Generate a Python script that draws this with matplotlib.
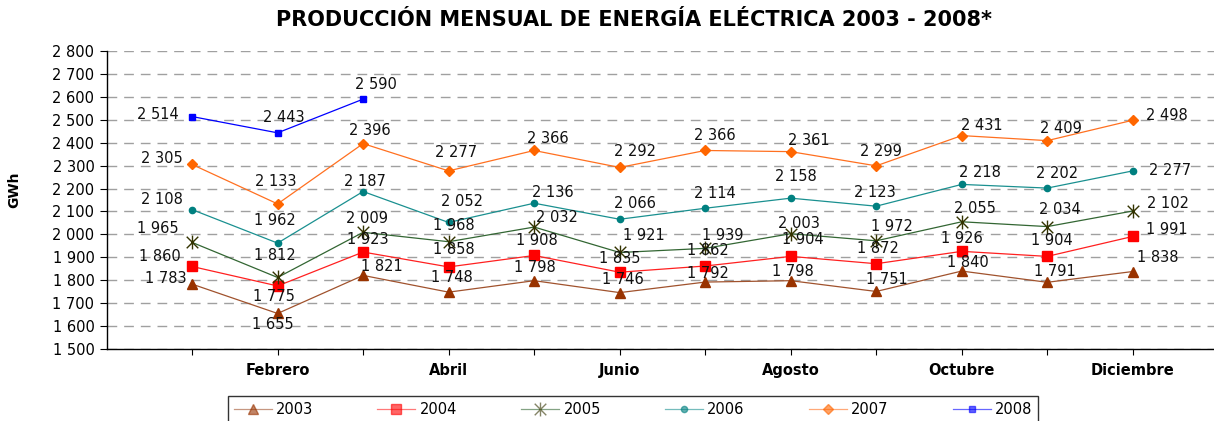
import numpy as np
import matplotlib
matplotlib.use("Agg")
import matplotlib.pyplot as plt
from matplotlib.path import Path

plt.rcParams["font.family"] = ["DejaVu Sans"]

# monthly electricity production, GWh
months = ["Enero", "Febrero", "Marzo", "Abril", "Mayo", "Junio", "Julio",
          "Agosto", "Septiembre", "Octubre", "Noviembre", "Diciembre"]
y2003 = [1783, 1655, 1821, 1748, 1798, 1746, 1792, 1798, 1751, 1840, 1791, 1838]
y2004 = [1860, 1775, 1923, 1858, 1908, 1835, 1862, 1904, 1872, 1926, 1904, 1991]
y2005 = [1965, 1812, 2009, 1968, 2032, 1921, 1939, 2003, 1972, 2055, 2034, 2102]
y2006 = [2108, 1962, 2187, 2052, 2136, 2066, 2114, 2158, 2123, 2218, 2202, 2277]
y2007 = [2305, 2133, 2396, 2277, 2366, 2292, 2366, 2361, 2299, 2431, 2409, 2498]
y2008 = [2514, 2443, 2590]
years = ["2003", "2004", "2005", "2006", "2007", "2008"]

# label offsets in pixels (dx, dy) - hand placed like the original
off2003 = [(-26, 6), (-5, -11), (19, 9), (3, 15), (1, 13), (3, 13), (3, 9),
           (2, 9), (11, 12), (6, 9), (8, 11), (25, 14)]
off2004 = [(-32, 10), (-4, -11), (5, 13), (5, 17), (3, 15), (0, 14), (3, 16),
           (12, 17), (2, 15), (0, 13), (5, 16), (34, 7)]
off2005 = [(-34, 14), (-3, 22), (4, 14), (5, 16), (23, 10), (24, 17), (18, 13),
           (8, 10), (16, 14), (13, 13), (13, 17), (35, 8)]
off2006 = [(-30, 10), (-3, 23), (2, 10), (13, 21), (19, 11), (15, 16), (10, 15),
           (5, 22), (-1, 14), (18, 12), (10, 15), (37, 0)]
off2007 = [(-30, 6), (-2, 22), (7, 13), (7, 18), (14, 12), (15, 16), (10, 15),
           (18, 11), (5, 14), (20, 10), (14, 12), (34, 5)]
off2008 = [(-34, 2), (6, 15), (13, 15)]

# asterisk marker (x plus vertical bar) like the excel one
star = Path([(-1, -1), (1, 1), (-1, 1), (1, -1), (0, -1.2), (0, 1.2)],
            [Path.MOVETO, Path.LINETO, Path.MOVETO, Path.LINETO, Path.MOVETO, Path.LINETO])

series = [
    (y2003, off2003, dict(color="#A0522D", marker="^", ms=7, mfc="#993300", mec="#993300")),
    (y2004, off2004, dict(color="#FF2020", marker="s", ms=7, mfc="#FF0000", mec="#FF0000")),
    (y2005, off2005, dict(color="#336633", marker=star, ms=10, mfc="none", mec="#333300", mew=1)),
    (y2006, off2006, dict(color="#1A9090", marker="o", ms=4.5, mfc="#008080", mec="#008080")),
    (y2007, off2007, dict(color="#FF7020", marker="D", ms=5.5, mfc="#FF6600", mec="#FF6600")),
    (y2008, off2008, dict(color="#0000FF", marker="s", ms=5, mfc="#0000FF", mec="#0000FF")),
]

def fmt(v):
    return f"{v:,}".replace(",", " ")

fig = plt.figure(figsize=(12.14, 4.21), dpi=100)
ax = fig.add_axes([107 / 1214, 72 / 421, 1 - 107 / 1214, 298 / 421])

x = np.arange(len(months))
for (vals, offs, st), name in zip(series, years):
    xs = x[:len(vals)]
    ax.plot(xs, vals, lw=0.9, label=name, **st)
    for xi, v, (dx, dy) in zip(xs, vals, offs):
        ax.annotate(fmt(v), (xi, v), xytext=(dx, dy), textcoords="offset pixels",
                    ha="center", va="center", fontsize=10.5, color="#111111")

ax.set_xlim(-0.995, 11.95)
ax.set_ylim(1500, 2800)
yt = np.arange(1500, 2801, 100)
ax.set_yticks(yt)
ax.set_yticklabels([fmt(v) for v in yt], fontsize=10.5)
ax.set_xticks(x)
ax.set_xticklabels([m if i % 2 == 1 else "" for i, m in enumerate(months)],
                   fontsize=10.5, fontweight="bold")
ax.tick_params(axis="x", length=4, pad=6)
ax.tick_params(axis="y", length=5, pad=4)

ax.grid(axis="y", color="#A0A0A0", ls=(0, (7, 5)), lw=1)
ax.set_axisbelow(True)
for s in ["top", "right"]:
    ax.spines[s].set_visible(False)
ax.spines["left"].set_linewidth(1)
ax.spines["bottom"].set_linewidth(1)

fig.text(14 / 1214, 1 - 190 / 421, "GWh", rotation=90, fontsize=10, fontweight="bold",
         ha="center", va="center")
fig.text(634 / 1214, 1 - 20 / 421, "PRODUCCIÓN MENSUAL DE ENERGÍA ELÉCTRICA 2003 - 2008*",
         fontsize=15, fontweight="bold", ha="center", va="center")

leg = fig.legend(loc="upper center", bbox_to_anchor=(633 / 1214, 25 / 421), ncol=6,
                 frameon=True, fancybox=False, edgecolor="black", fontsize=10.5,
                 handlelength=2.6, columnspacing=4.4, borderpad=0.4, handletextpad=0.3,
                 borderaxespad=0)
leg.get_frame().set_linewidth(1)
for h in leg.get_lines():
    h.set_alpha(0.6)

fig.savefig("out.png", dpi=100)
